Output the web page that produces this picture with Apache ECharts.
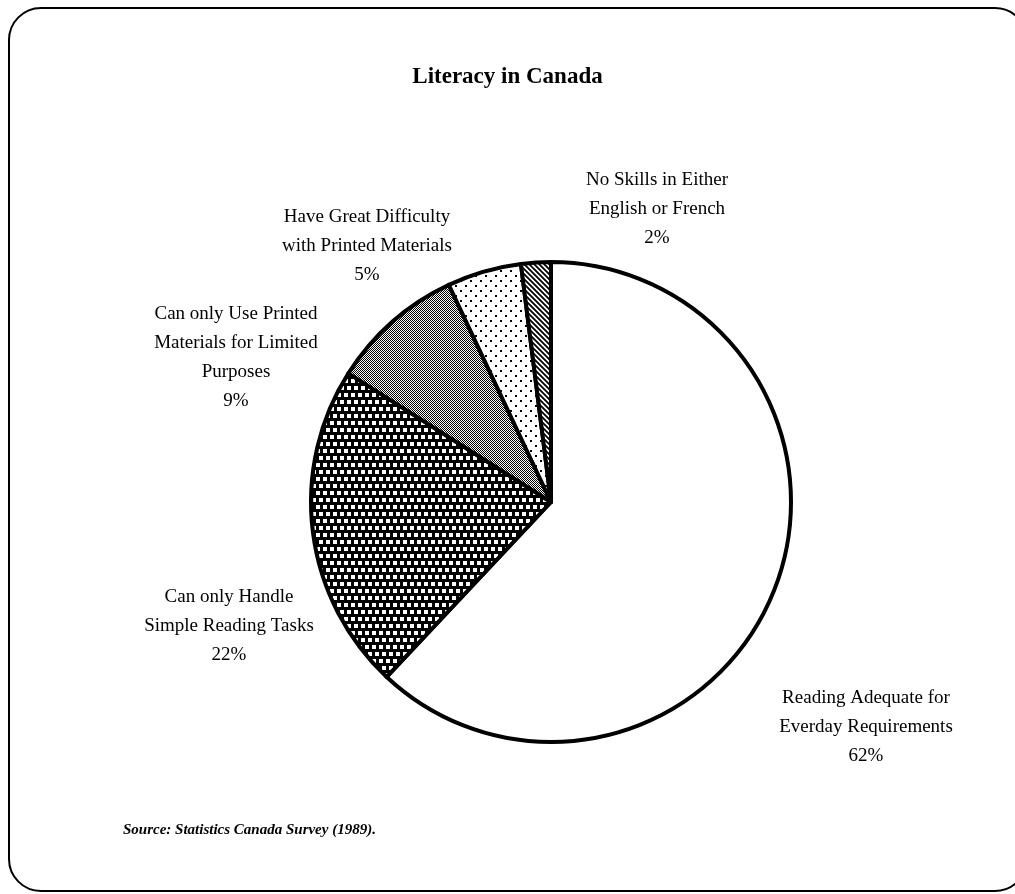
<!DOCTYPE html>
<html>
<head>
<meta charset="utf-8">
<title>Literacy in Canada</title>
<script src="https://cdn.jsdelivr.net/npm/echarts@6/dist/echarts.min.js"></script>
<style>
  html, body { margin: 0; padding: 0; background: #fff; }
  #chart { width: 1015px; height: 894px; }
</style>
</head>
<body>
<div id="chart"></div>
<script>
// Literacy levels of Canadian adults, share of population (%)
const categories = [
  'Reading Adequate for\nEverday Requirements',
  'Can only Handle\nSimple Reading Tasks',
  'Can only Use Printed\nMaterials for Limited\nPurposes',
  'Have Great Difficulty\nwith Printed Materials',
  'No Skills in Either\nEnglish or French'
];
const shares = [62, 22, 9, 5, 2];
const titleText = 'Literacy in Canada';
const sourceText = 'Source: Statistics Canada Survey (1989).';

// Label anchor points (centre of each label block), in pixels
const labelAnchors = [
  [866, 727],
  [229, 626],
  [236, 358],
  [367, 246],
  [657, 209]
];

// Monochrome fill patterns, one per slice
function makeTile(w, h, draw) {
  const c = document.createElement('canvas');
  c.width = w; c.height = h;
  const g = c.getContext('2d');
  draw(g, w, h);
  return c;
}
const patterns = [
  null,
  // white squares on black, staggered rows
  makeTile(14, 14, (g) => {
    g.fillStyle = '#000'; g.fillRect(0, 0, 14, 14);
    g.fillStyle = '#fff';
    g.fillRect(1, 1, 4, 4); g.fillRect(8, 1, 4, 4);
    g.fillRect(4, 8, 4, 4); g.fillRect(11, 8, 3, 4); g.fillRect(0, 8, 1, 4);
  }),
  // fine dither
  makeTile(2, 2, (g) => {
    g.fillStyle = '#fff'; g.fillRect(0, 0, 2, 2);
    g.fillStyle = '#000'; g.fillRect(0, 0, 1, 1); g.fillRect(1, 1, 1, 1);
  }),
  // sparse dots
  makeTile(10, 10, (g) => {
    g.fillStyle = '#fff'; g.fillRect(0, 0, 10, 10);
    g.fillStyle = '#000'; g.fillRect(0, 0, 2, 2); g.fillRect(5, 5, 2, 2);
  }),
  // diagonal hatch
  makeTile(5, 5, (g) => {
    g.fillStyle = '#fff'; g.fillRect(0, 0, 5, 5);
    g.strokeStyle = '#000'; g.lineWidth = 1.8;
    g.beginPath();
    g.moveTo(-5, -5); g.lineTo(10, 10);
    g.moveTo(-5, 0); g.lineTo(5, 10);
    g.moveTo(0, -5); g.lineTo(10, 5);
    g.stroke();
  })
];

const data = categories.map((name, i) => ({
  name: name,
  value: shares[i],
  itemStyle: {
    color: patterns[i] ? { image: patterns[i], repeat: 'repeat' } : '#fff'
  }
}));

const serif = '"Liberation Serif", "Times New Roman", serif';
const chart = echarts.init(document.getElementById('chart'), null, { renderer: 'canvas' });
chart.setOption({
  backgroundColor: '#fff',
  animation: false,
  title: {
    text: titleText,
    left: 'center',
    top: 61,
    textStyle: { fontFamily: serif, fontSize: 23, fontWeight: 'bold', color: '#000' }
  },
  graphic: [
    {
      type: 'rect',
      shape: { x: 9, y: 8, width: 1018, height: 883, r: 32 },
      style: { fill: 'none', stroke: '#000', lineWidth: 2 },
      silent: true
    },
    {
      type: 'text',
      left: 123,
      top: 823,
      style: {
        text: sourceText,
        font: 'italic bold 15px ' + serif,
        fill: '#000'
      }
    }
  ],
  series: [{
    type: 'pie',
    center: [551, 502],
    radius: 240,
    startAngle: 90,
    clockwise: true,
    avoidLabelOverlap: false,
    itemStyle: { borderColor: '#000', borderWidth: 4 },
    emphasis: { disabled: true },
    label: {
      show: true,
      formatter: '{b}\n{c}%',
      fontFamily: serif,
      fontSize: 19,
      lineHeight: 29,
      color: '#000',
      align: 'center'
    },
    labelLine: { show: false },
    labelLayout: function (p) {
      const a = labelAnchors[p.dataIndex];
      return { x: a[0], y: a[1], align: 'center', verticalAlign: 'middle' };
    },
    data: data
  }]
});
</script>
</body>
</html>
